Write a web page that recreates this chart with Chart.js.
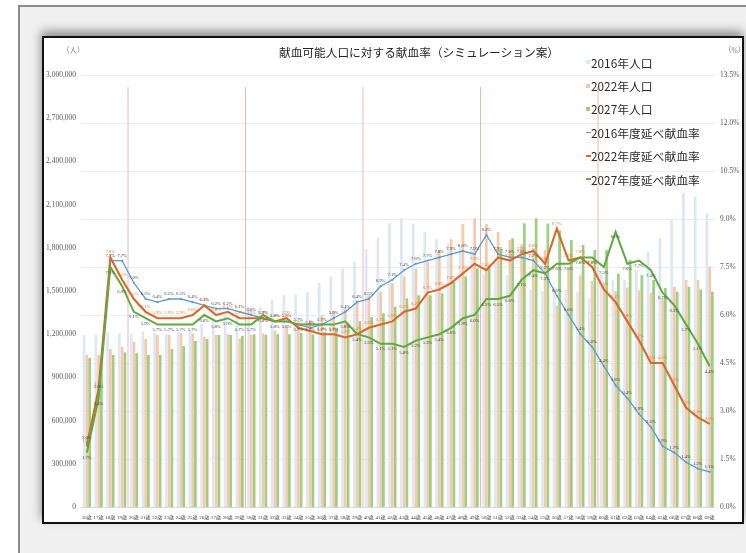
<!DOCTYPE html>
<html lang="ja">
<head>
<meta charset="utf-8">
<title>献血可能人口に対する献血率（シミュレーション案）</title>
<script src="https://cdn.jsdelivr.net/npm/chart.js@4.4.1/dist/chart.umd.min.js"></script>
<style>
  html, body { margin: 0; padding: 0; background: #ffffff; }
  body { width: 746px; height: 553px; position: relative; overflow: hidden;
         font-family: "Noto Sans CJK JP", "Noto Sans", sans-serif; }
  #frame { position: absolute; left: 18px; top: 5px; width: 760px; height: 600px;
           border: 2px solid #8c8c8c; background: #f0f0f0; }
  #card { position: absolute; left: 42px; top: 36px; width: 698px; height: 484px;
          border: 2px solid #111111; background: #ffffff;
          box-shadow: -1px -5px 9px rgba(0,0,0,0.4); }
  #chart { position: absolute; left: 0; top: 0; }
  #title { position: absolute; left: 219px; top: 5px; width: 312px; text-align: center;
           font-size: 11.7px; line-height: 18px; color: #262626; white-space: nowrap; }
  .unit { position: absolute; top: 8px; font-family: "Liberation Serif", "Noto Sans CJK JP", serif;
          font-size: 7.5px; line-height: 10px; color: #808080; white-space: nowrap; }
  #legend { position: absolute; left: 542px; top: 12.6px; }
  .lg-row { height: 23.4px; line-height: 23.4px; font-size: 11.8px; color: #2b2b2b;
            white-space: nowrap; display: flex; align-items: center; }
  .lg-box { display: inline-block; width: 4px; height: 4px; margin-right: 1px; }
  .lg-line { display: inline-block; width: 4.5px; height: 1.6px; margin-right: 0.5px; }
</style>
</head>
<body>
<div id="frame"></div>
<div id="card">
  <canvas id="chart" width="698" height="484"></canvas>
  <div id="title">献血可能人口に対する献血率（シミュレーション案）</div>
  <div class="unit" style="left:18px;">（人）</div>
  <div class="unit" style="left:680px;">（%）</div>
  <div id="legend"></div>
</div>
<script>
// Ages on the horizontal axis
const ageLabels = [
  '16歳','17歳','18歳','19歳','20歳','21歳','22歳','23歳','24歳','25歳',
  '26歳','27歳','28歳','29歳','30歳','31歳','32歳','33歳','34歳','35歳',
  '36歳','37歳','38歳','39歳','40歳','41歳','42歳','43歳','44歳','45歳',
  '46歳','47歳','48歳','49歳','50歳','51歳','52歳','53歳','54歳','55歳',
  '56歳','57歳','58歳','59歳','60歳','61歳','62歳','63歳','64歳','65歳',
  '66歳','67歳','68歳','69歳'
];

// Population by age (persons)
const pop2016 = [
  1194000,1194000,1213000,1205000,1205000,1218000,1210000,1200000,1215000,1230000,
  1270000,1300000,1333000,1333000,1390000,1390000,1440000,1472000,1472000,1495000,
  1558000,1600000,1657000,1703000,1790000,1866000,1970000,2005000,1968000,1912000,
  1859000,1830000,1806000,1790000,1620000,1715000,1610000,1550000,1510000,1500000,
  1530000,1510000,1495000,1450000,1623000,1576000,1576000,1646000,1773000,1866000,
  1993000,2180000,2155000,2040000
];
const pop2022 = [
  1055000,1055000,1097000,1113000,1148000,1167000,1194000,1194000,1206000,1206000,
  1183000,1194000,1200000,1171000,1195000,1205000,1225000,1250000,1275000,1300000,
  1330000,1356000,1390000,1437000,1470000,1495000,1555000,1600000,1655000,1700000,
  1785000,1860000,1965000,2005000,1965000,1910000,1855000,1825000,1800000,1785000,
  1400000,1660000,1610000,1570000,1545000,1500000,1525000,1505000,1490000,1450000,
  1530000,1576000,1576000,1669000
];
const pop2027 = [
  1035000,1030000,1055000,1074000,1067000,1055000,1055000,1097000,1118000,1153000,
  1167000,1194000,1194000,1190000,1200000,1194000,1200000,1200000,1210000,1200000,
  1215000,1240000,1270000,1290000,1320000,1345000,1390000,1450000,1470000,1470000,
  1484000,1565000,1600000,1658000,1680000,1790000,1866000,1970000,2005000,1968000,
  1920000,1854000,1820000,1785000,1785000,1620000,1715000,1610000,1576000,1520000,
  1495000,1530000,1510000,1495000
];

// Donation rate by age (%)
const rate2016 = [
  2.0,3.6,7.7,7.7,7.0,6.5,6.4,6.5,6.5,6.4,
  6.3,6.2,6.2,6.1,6.0,5.9,5.8,5.8,5.7,5.6,
  5.7,5.9,6.1,6.4,6.5,6.9,7.1,7.4,7.6,7.7,
  7.8,7.9,8.0,7.9,8.5,7.9,7.8,7.8,7.7,7.3,
  6.6,6.0,5.4,5.0,4.4,3.8,3.4,2.9,2.5,1.9,
  1.7,1.4,1.2,1.1
];
const rate2022 = [
  1.9,3.7,7.8,7.1,6.5,6.1,5.9,5.9,5.9,6.0,
  6.3,6.0,6.1,5.9,5.9,5.9,5.8,5.9,5.6,5.5,
  5.4,5.4,5.3,5.4,5.6,5.7,5.8,6.1,6.2,6.7,
  6.8,7.0,7.3,7.6,7.4,7.8,7.7,7.9,8.0,7.6,
  8.7,7.7,7.8,7.5,6.8,6.4,5.8,5.2,4.5,4.5,
  3.8,3.1,2.8,2.6
];
const rate2027 = [
  1.7,3.4,7.5,6.9,6.1,5.9,5.7,5.7,5.7,5.7,
  6.0,5.8,5.9,5.7,5.7,6.0,5.8,5.8,5.7,5.7,
  5.7,5.7,5.8,5.4,5.3,5.1,5.1,5.0,5.2,5.3,
  5.4,5.6,5.9,6.0,6.5,6.5,6.6,7.1,7.4,7.3,
  7.6,7.6,7.8,7.8,7.5,8.6,7.6,7.7,7.4,6.7,
  6.3,5.7,5.1,4.4
];

// Axis ticks
const popTicks  = [0,300000,600000,900000,1200000,1500000,1800000,2100000,2400000,2700000,3000000];
const rateTicks = [0,1.5,3.0,4.5,6.0,7.5,9.0,10.5,12.0,13.5];

// Age-group dividers are drawn just before these ages
const dividerAges = ['20歳','30歳','40歳','50歳','60歳'];

const barStyle = { categoryPercentage: 0.7, barPercentage: 1.0, yAxisID: 'yPop', order: 5 };
const lineStyle = { type: 'line', yAxisID: 'yRate', tension: 0, fill: false,
                    pointBorderWidth: 0, pointHoverRadius: 0 };

const datasets = [
  Object.assign({ label: '2016年人口', data: pop2016, backgroundColor: '#dce8f5' }, barStyle),
  Object.assign({ label: '2022年人口', data: pop2022, backgroundColor: '#f7c9a9' }, barStyle),
  Object.assign({ label: '2027年人口', data: pop2027, backgroundColor: '#9dcf80' }, barStyle),
  Object.assign({ label: '2016年度延べ献血率', data: rate2016, borderColor: '#5b9bd5',
                  backgroundColor: '#5b9bd5', borderWidth: 1.3, pointRadius: 1.1,
                  order: 3, labelColor: '#404040', labelBelow: false }, lineStyle),
  Object.assign({ label: '2022年度延べ献血率', data: rate2022, borderColor: '#d8692a',
                  backgroundColor: '#d8692a', borderWidth: 2.1, pointRadius: 0,
                  order: 2, labelColor: '#e27a36', labelBelow: false }, lineStyle),
  Object.assign({ label: '2027年度延べ献血率', data: rate2027, borderColor: '#5dab3c',
                  backgroundColor: '#5dab3c', borderWidth: 2.0, pointRadius: 0,
                  order: 1, labelColor: '#404040', labelBelow: true }, lineStyle)
];

// Thin pink separators between age groups
const dividerPlugin = {
  id: 'ageDividers',
  beforeDatasetsDraw(chart) {
    const x = chart.scales.x, area = chart.chartArea, c = chart.ctx;
    c.save();
    c.strokeStyle = '#f4b4b4';
    c.lineWidth = 1;
    dividerAges.forEach(a => {
      const idx = ageLabels.indexOf(a);
      const px = (x.getPixelForValue(idx) + x.getPixelForValue(idx - 1)) / 2;
      c.beginPath();
      c.moveTo(px, area.top + 12);
      c.lineTo(px, area.bottom);
      c.stroke();
    });
    c.restore();
  }
};

// Percentage labels beside every point of the rate lines
const valueLabelPlugin = {
  id: 'rateLabels',
  afterDatasetsDraw(chart) {
    const c = chart.ctx;
    c.save();
    c.font = '4.6px "Liberation Serif", serif';
    c.textAlign = 'center';
    chart.data.datasets.forEach((ds, i) => {
      if (ds.type !== 'line') return;
      const meta = chart.getDatasetMeta(i);
      c.fillStyle = ds.labelColor;
      c.textBaseline = ds.labelBelow ? 'top' : 'bottom';
      meta.data.forEach((pt, j) => {
        const y = ds.labelBelow ? pt.y + 3 : pt.y - 3;
        c.fillText(ds.data[j].toFixed(1) + '%', pt.x, y);
      });
    });
    c.restore();
  }
};

const tickFont = { family: '"Liberation Serif", serif', size: 7.5 };

const chart = new Chart(document.getElementById('chart'), {
  type: 'bar',
  data: { labels: ageLabels, datasets: datasets },
  options: {
    responsive: false,
    animation: false,
    devicePixelRatio: 1,
    layout: { padding: { left: 0, right: 0, top: 37, bottom: 2 } },
    plugins: { legend: { display: false }, tooltip: { enabled: false }, title: { display: false } },
    scales: {
      x: {
        grid: { display: false },
        border: { display: true, color: '#d9d9d9', width: 1 },
        ticks: { autoSkip: false, maxRotation: 0, minRotation: 0, padding: 0,
                 color: '#404040', font: { family: '"Liberation Serif", "Noto Sans CJK JP", serif', size: 5 } },
        afterFit(s) { s.height = 13; }
      },
      yPop: {
        position: 'left', min: 0, max: 3000000,
        grid: { display: false, drawTicks: false },
        border: { display: false },
        ticks: { padding: 5, color: '#595959', font: tickFont,
                 callback: v => v.toLocaleString('en-US') },
        afterBuildTicks(s) { s.ticks = popTicks.map(v => ({ value: v })); },
        afterFit(s) { s.width = 37; }
      },
      yRate: {
        position: 'right', min: 0, max: 13.5,
        grid: { display: true, color: '#ececec', lineWidth: 1, drawTicks: false },
        border: { display: false },
        ticks: { padding: 4.5, color: '#595959', font: tickFont,
                 callback: v => v.toFixed(1) + '%' },
        afterBuildTicks(s) { s.ticks = rateTicks.map(v => ({ value: v })); },
        afterFit(s) { s.width = 26.5; }
      }
    }
  },
  plugins: [dividerPlugin, valueLabelPlugin]
});

// Legend built from the chart's own datasets
const legendEl = document.getElementById('legend');
chart.data.datasets.forEach(ds => {
  const row = document.createElement('div');
  row.className = 'lg-row';
  const mark = document.createElement('span');
  if (ds.type === 'line') {
    mark.className = 'lg-line';
    mark.style.background = ds.borderColor;
  } else {
    mark.className = 'lg-box';
    mark.style.background = ds.backgroundColor;
  }
  row.appendChild(mark);
  row.appendChild(document.createTextNode(ds.label));
  legendEl.appendChild(row);
});
</script>
</body>
</html>
